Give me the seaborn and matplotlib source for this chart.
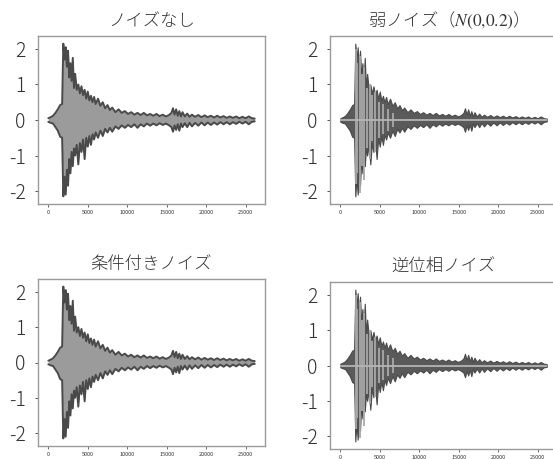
import matplotlib
matplotlib.use("Agg")
import matplotlib.pyplot as plt
import seaborn as sns

# envelope of the waveform (sample index -> amplitude)
sample_x = [0, 300, 600, 900, 1200, 1500, 1750, 1900, 2050, 2200, 2350, 2500,
            2650, 2800, 2950, 3100, 3250, 3400, 3600, 3800, 4000, 4200, 4400,
            4600, 4800, 5000, 5200, 5400, 5600, 5800, 6000, 6300, 6600, 6900,
            7200, 7500, 7800, 8100, 8500, 8900, 9300, 9700, 10100, 10500,
            10900, 11300, 11700, 12100, 12500, 12900, 13300, 13700, 14100,
            14500, 14900, 15300, 15600, 15800, 16000, 16200, 16400, 16600,
            16800, 17000, 17300, 17600, 17900, 18200, 18600, 19000, 19400,
            19800, 20200, 20600, 21000, 21400, 21800, 22200, 22600, 23000,
            23400, 23800, 24200, 24600, 25000, 25400, 25800, 26150]
upper = [0.05, 0.08, 0.12, 0.2, 0.3, 0.42, 0.45, 2.15, 1.7, 2.05, 1.5, 1.95,
         1.2, 1.6, 1.1, 1.75, 0.9, 1.3, 0.85, 1.0, 0.75, 0.95, 0.7,
         0.85, 0.6, 0.8, 0.55, 0.68, 0.5, 0.65, 0.45, 0.6, 0.4, 0.5,
         0.33, 0.42, 0.28, 0.35, 0.22, 0.3, 0.2, 0.25, 0.17, 0.22,
         0.15, 0.2, 0.14, 0.2, 0.13, 0.17, 0.12, 0.17, 0.11,
         0.15, 0.1, 0.14, 0.2, 0.33, 0.15, 0.3, 0.12, 0.25,
         0.1, 0.22, 0.1, 0.18, 0.09, 0.15, 0.09, 0.14, 0.08,
         0.13, 0.08, 0.12, 0.07, 0.12, 0.07, 0.11, 0.06, 0.1,
         0.06, 0.1, 0.05, 0.09, 0.05, 0.1, 0.05, 0.04]
lower = [-0.05, -0.08, -0.1, -0.2, -0.3, -0.47, -0.5, -2.15, -1.6, -2.1, -1.4, -1.85,
         -1.1, -1.5, -0.9, -1.3, -0.8, -1.0, -0.7, -1.25, -0.65, -0.9, -0.55,
         -1.1, -0.5, -0.75, -0.45, -0.7, -0.4, -0.55, -0.35, -0.5, -0.3, -0.45,
         -0.25, -0.35, -0.22, -0.33, -0.18, -0.25, -0.15, -0.22, -0.14, -0.2,
         -0.12, -0.22, -0.12, -0.18, -0.1, -0.16, -0.1, -0.15, -0.09,
         -0.14, -0.1, -0.15, -0.2, -0.33, -0.15, -0.28, -0.12, -0.3,
         -0.1, -0.2, -0.09, -0.2, -0.08, -0.18, -0.08, -0.16, -0.07,
         -0.15, -0.07, -0.14, -0.07, -0.13, -0.06, -0.12, -0.06, -0.12,
         -0.06, -0.11, -0.05, -0.1, -0.05, -0.12, -0.05, -0.04]

# light spikes that show through in the weak / inverted-phase noise panels
spike_x = [1950, 2150, 2450, 2750, 3050, 3350, 3700, 4050, 4450, 4900, 5400, 6000, 6700]
spike_hi = [2.0, 1.6, 1.8, 1.3, 1.5, 0.9, 1.0, 0.7, 0.8, 0.5, 0.45, 0.3, 0.2]
spike_lo = [-1.8, -1.5, -2.05, -1.3, -1.7, -0.8, -1.1, -0.6, -0.9, -0.5, -0.4, -0.3, -0.2]

titles = ["ノイズなし", "弱ノイズ（$N(0{,}0.2)$）", "条件付きノイズ", "逆位相ノイズ"]
x_ticks = [0, 5000, 10000, 15000, 20000, 25000]
y_ticks = [-2, -1, 0, 1, 2]

sns.set_style("white")
plt.rcParams['font.family'] = ['Noto Sans CJK JP', 'DejaVu Sans']
plt.rcParams['axes.unicode_minus'] = False
plt.rcParams['mathtext.fontset'] = 'stix'

fig = plt.figure(figsize=(5.53, 4.59), dpi=100)
# left, bottom, width, height in figure fractions
boxes = [
    [38 / 553, 255 / 459, 227 / 553, 168 / 459],
    [330 / 553, 255 / 459, 227 / 553, 168 / 459],
    [38 / 553, 13 / 459, 227 / 553, 167 / 459],
    [330 / 553, 10 / 459, 227 / 553, 167 / 459],
]

for i, (box, title) in enumerate(zip(boxes, titles)):
    ax = fig.add_axes(box)
    if i in (0, 2):
        # noisy signal mostly covers the original one
        ax.fill_between(sample_x, lower, upper, color="#9b9b9b", lw=0)
        sns.lineplot(x=sample_x, y=upper, ax=ax, color="#4a4a4a", lw=1.4)
        sns.lineplot(x=sample_x, y=lower, ax=ax, color="#4a4a4a", lw=1.4)
    else:
        ax.fill_between(sample_x, lower, upper, color="#5a5a5a", lw=0.8,
                        edgecolor="#4a4a4a")
        ax.vlines(spike_x, spike_lo, spike_hi, color="#a8a8a8", lw=1.3)
        ax.hlines(0, sample_x[0], sample_x[-1], color="#b4b4b4", lw=1.3)

    ax.set_title(title, fontsize=12.5, color="#333333", pad=7, fontweight="light")
    ax.set_xticks(x_ticks)
    ax.set_yticks(y_ticks)
    ax.set_yticklabels([str(v) for v in y_ticks], fontweight="light")
    ax.tick_params(axis="x", labelsize=4, colors="#333333", length=2, width=0.5, pad=2)
    ax.tick_params(axis="y", labelsize=14, colors="#333333", length=2, width=0.6, pad=7)
    ax.tick_params(axis="x", which="both", bottom=True)
    ax.tick_params(axis="y", which="both", left=True)
    for sp in ax.spines.values():
        sp.set_color("#9a9a9a")
        sp.set_linewidth(1.0)

fig.savefig("out.png", dpi=100)
